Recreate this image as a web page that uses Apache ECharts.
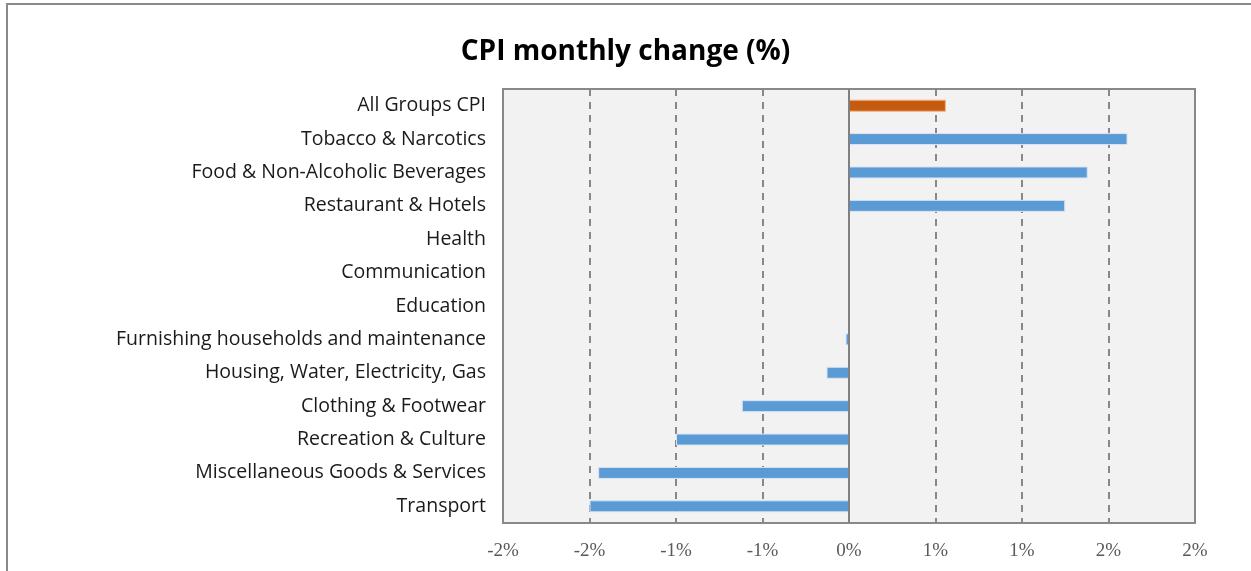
<!DOCTYPE html>
<html>
<head>
<meta charset="utf-8">
<script src="https://cdn.jsdelivr.net/npm/echarts@6/dist/echarts.min.js"></script>
<style>
  html, body { margin: 0; padding: 0; background: #fff; }
  #chart { width: 1251px; height: 571px; }
</style>
</head>
<body>
<div id="chart"></div>
<script>
// categories, top to bottom
var categories = [
    'All Groups CPI',
    'Tobacco & Narcotics',
    'Food & Non-Alcoholic Beverages',
    'Restaurant & Hotels',
    'Health',
    'Communication',
    'Education',
    'Furnishing households and maintenance',
    'Housing, Water, Electricity, Gas',
    'Clothing & Footwear',
    'Recreation & Culture',
    'Miscellaneous Goods & Services',
    'Transport'
];
// monthly change in %
var changes = [0.56, 1.61, 1.38, 1.25, 0, 0, 0, -0.02, -0.13, -0.62, -1.0, -1.45, -1.50];
var highlight = 'All Groups CPI';

var myChart = echarts.init(document.getElementById('chart'));

var option = {
    backgroundColor: '#fff',
    animation: false,
    title: {
        text: 'CPI monthly change (%)',
        left: 'center',
        top: 33,
        textStyle: {
            fontFamily: 'Open Sans',
            fontWeight: 'bold',
            fontSize: 28,
            color: '#000'
        }
    },
    graphic: [{
        type: 'rect',
        shape: { x: 7, y: 4, width: 1400, height: 700 },
        style: { fill: 'none', stroke: '#898989', lineWidth: 2 },
        silent: true
    }],
    grid: {
        left: 503,
        right: 56,
        top: 89,
        bottom: 48,
        show: true,
        backgroundColor: '#f2f2f2',
        borderColor: '#898989',
        borderWidth: 2
    },
    xAxis: {
        type: 'value',
        min: -2,
        max: 2,
        interval: 0.5,
        axisLine: { show: false },
        axisTick: { show: false },
        axisLabel: {
            margin: 19,
            fontFamily: 'Liberation Serif',
            fontSize: 19,
            color: '#595959',
            formatter: function (v) {
                // labels rounded away from zero, like the original
                var r = Math.sign(v) * Math.round(Math.abs(v));
                return (r === 0 ? 0 : r) + '%';
            }
        },
        splitLine: {
            show: true,
            lineStyle: { color: '#888', width: 2, type: [7, 6] }
        }
    },
    yAxis: {
        type: 'category',
        inverse: true,
        data: categories,
        axisLine: { show: false },
        axisTick: { show: false },
        axisLabel: {
            margin: 17,
            fontFamily: 'Open Sans',
            fontSize: 19.5,
            color: '#1a1a1a'
        }
    },
    series: [{
        type: 'bar',
        barWidth: 12,
        data: changes.map(function (v, i) {
            var isAll = categories[i] === highlight;
            return {
                value: v,
                itemStyle: {
                    color: isAll ? '#c55a11' : '#5b9bd5',
                    borderColor: isAll ? '#f4b183' : '#dae3f3',
                    borderWidth: 1
                }
            };
        }),
        markLine: {
            silent: true,
            symbol: 'none',
            label: { show: false },
            lineStyle: { color: '#808080', width: 2, type: 'solid' },
            data: [{ xAxis: 0 }]
        }
    }]
};
myChart.setOption(option);
</script>
</body>
</html>
